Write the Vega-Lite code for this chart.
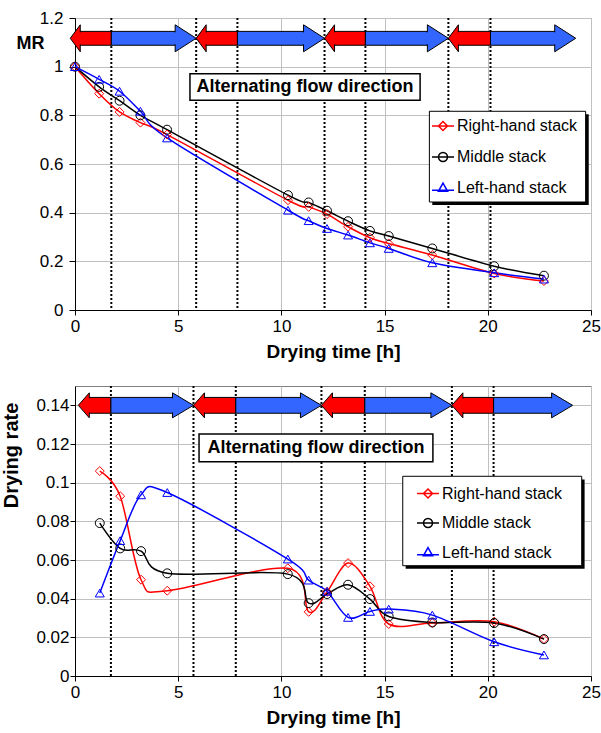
{
  "$schema": "https://vega.github.io/schema/vega-lite/v6.json",
  "padding": {"left": 0, "top": 8, "right": 0, "bottom": 0},
  "spacing": 22,
  "resolve": {"scale": {"color": "independent", "shape": "independent"}, "legend": {"color": "independent", "shape": "independent"}},
  "datasets": {
    "mrTop": [
      {"t": 0, "v": 1.0, "series": "Right-hand stack"}, {"t": 1.17, "v": 0.889, "series": "Right-hand stack"}, {"t": 2.16, "v": 0.814, "series": "Right-hand stack"}, {"t": 3.17, "v": 0.770, "series": "Right-hand stack"}, {"t": 4.46, "v": 0.721, "series": "Right-hand stack"}, {"t": 10.32, "v": 0.451, "series": "Right-hand stack"}, {"t": 11.32, "v": 0.424, "series": "Right-hand stack"}, {"t": 12.21, "v": 0.394, "series": "Right-hand stack"}, {"t": 13.23, "v": 0.342, "series": "Right-hand stack"}, {"t": 14.29, "v": 0.297, "series": "Right-hand stack"}, {"t": 15.2, "v": 0.273, "series": "Right-hand stack"}, {"t": 17.31, "v": 0.226, "series": "Right-hand stack"}, {"t": 20.31, "v": 0.150, "series": "Right-hand stack"}, {"t": 22.72, "v": 0.119, "series": "Right-hand stack"},
      {"t": 0, "v": 1.0, "series": "Middle stack"}, {"t": 1.17, "v": 0.917, "series": "Middle stack"}, {"t": 2.16, "v": 0.860, "series": "Middle stack"}, {"t": 3.17, "v": 0.800, "series": "Middle stack"}, {"t": 4.46, "v": 0.741, "series": "Middle stack"}, {"t": 10.32, "v": 0.472, "series": "Middle stack"}, {"t": 11.32, "v": 0.442, "series": "Middle stack"}, {"t": 12.21, "v": 0.408, "series": "Middle stack"}, {"t": 13.23, "v": 0.365, "series": "Middle stack"}, {"t": 14.29, "v": 0.325, "series": "Middle stack"}, {"t": 15.2, "v": 0.304, "series": "Middle stack"}, {"t": 17.31, "v": 0.253, "series": "Middle stack"}, {"t": 20.31, "v": 0.180, "series": "Middle stack"}, {"t": 22.72, "v": 0.141, "series": "Middle stack"},
      {"t": 0, "v": 1.0, "series": "Left-hand stack"}, {"t": 1.17, "v": 0.948, "series": "Left-hand stack"}, {"t": 2.16, "v": 0.899, "series": "Left-hand stack"}, {"t": 3.17, "v": 0.817, "series": "Left-hand stack"}, {"t": 4.46, "v": 0.707, "series": "Left-hand stack"}, {"t": 10.32, "v": 0.410, "series": "Left-hand stack"}, {"t": 11.32, "v": 0.367, "series": "Left-hand stack"}, {"t": 12.21, "v": 0.335, "series": "Left-hand stack"}, {"t": 13.23, "v": 0.308, "series": "Left-hand stack"}, {"t": 14.29, "v": 0.276, "series": "Left-hand stack"}, {"t": 15.2, "v": 0.253, "series": "Left-hand stack"}, {"t": 17.31, "v": 0.194, "series": "Left-hand stack"}, {"t": 20.31, "v": 0.153, "series": "Left-hand stack"}, {"t": 22.72, "v": 0.127, "series": "Left-hand stack"}
    ],
    "rateBottom": [
      {"t": 1.2, "v": 0.106, "series": "Right-hand stack"}, {"t": 2.19, "v": 0.093, "series": "Right-hand stack"}, {"t": 3.2, "v": 0.0498, "series": "Right-hand stack"}, {"t": 4.47, "v": 0.0441, "series": "Right-hand stack"}, {"t": 10.31, "v": 0.0557, "series": "Right-hand stack"}, {"t": 11.32, "v": 0.0332, "series": "Right-hand stack"}, {"t": 12.21, "v": 0.0435, "series": "Right-hand stack"}, {"t": 13.23, "v": 0.0584, "series": "Right-hand stack"}, {"t": 14.29, "v": 0.0464, "series": "Right-hand stack"}, {"t": 15.2, "v": 0.0269, "series": "Right-hand stack"}, {"t": 17.31, "v": 0.0274, "series": "Right-hand stack"}, {"t": 20.31, "v": 0.0281, "series": "Right-hand stack"}, {"t": 22.72, "v": 0.0191, "series": "Right-hand stack"},
      {"t": 1.2, "v": 0.0791, "series": "Middle stack"}, {"t": 2.19, "v": 0.066, "series": "Middle stack"}, {"t": 3.2, "v": 0.0646, "series": "Middle stack"}, {"t": 4.47, "v": 0.0531, "series": "Middle stack"}, {"t": 10.31, "v": 0.0527, "series": "Middle stack"}, {"t": 11.32, "v": 0.0377, "series": "Middle stack"}, {"t": 12.21, "v": 0.0424, "series": "Middle stack"}, {"t": 13.23, "v": 0.0472, "series": "Middle stack"}, {"t": 14.29, "v": 0.0398, "series": "Middle stack"}, {"t": 15.2, "v": 0.0308, "series": "Middle stack"}, {"t": 17.31, "v": 0.0277, "series": "Middle stack"}, {"t": 20.31, "v": 0.0274, "series": "Middle stack"}, {"t": 22.72, "v": 0.0191, "series": "Middle stack"},
      {"t": 1.2, "v": 0.0429, "series": "Left-hand stack"}, {"t": 2.19, "v": 0.070, "series": "Left-hand stack"}, {"t": 3.2, "v": 0.0937, "series": "Left-hand stack"}, {"t": 4.47, "v": 0.0949, "series": "Left-hand stack"}, {"t": 10.31, "v": 0.0605, "series": "Left-hand stack"}, {"t": 11.32, "v": 0.0496, "series": "Left-hand stack"}, {"t": 12.21, "v": 0.0438, "series": "Left-hand stack"}, {"t": 13.23, "v": 0.0303, "series": "Left-hand stack"}, {"t": 14.29, "v": 0.0334, "series": "Left-hand stack"}, {"t": 15.2, "v": 0.0346, "series": "Left-hand stack"}, {"t": 17.31, "v": 0.0315, "series": "Left-hand stack"}, {"t": 20.31, "v": 0.0177, "series": "Left-hand stack"}, {"t": 22.72, "v": 0.0109, "series": "Left-hand stack"}
    ],
    "switchTop": [{"t": 1.76}, {"t": 5.87}, {"t": 7.87}, {"t": 12.09}, {"t": 14.07}, {"t": 18.09}, {"t": 20.13}],
    "switchBottom": [{"t": 1.74}, {"t": 5.74}, {"t": 7.79}, {"t": 11.94}, {"t": 14.04}, {"t": 18.26}, {"t": 20.28}],
    "arrowsTop": [
      {"dir": "left", "tip": -0.23, "base": 0.26, "tail": 1.76},
      {"dir": "right", "tip": 5.87, "base": 4.84, "tail": 1.76},
      {"dir": "left", "tip": 5.87, "base": 6.36, "tail": 7.87},
      {"dir": "right", "tip": 12.09, "base": 11.06, "tail": 7.87},
      {"dir": "left", "tip": 12.09, "base": 12.58, "tail": 14.07},
      {"dir": "right", "tip": 18.09, "base": 17.06, "tail": 14.07},
      {"dir": "left", "tip": 18.09, "base": 18.58, "tail": 20.13},
      {"dir": "right", "tip": 24.26, "base": 23.23, "tail": 20.13}
    ],
    "arrowsBottom": [
      {"dir": "left", "tip": 0.16, "base": 0.7, "tail": 1.74},
      {"dir": "right", "tip": 5.74, "base": 4.73, "tail": 1.74},
      {"dir": "left", "tip": 5.74, "base": 6.28, "tail": 7.79},
      {"dir": "right", "tip": 11.94, "base": 10.93, "tail": 7.79},
      {"dir": "left", "tip": 11.94, "base": 12.48, "tail": 14.04},
      {"dir": "right", "tip": 18.26, "base": 17.25, "tail": 14.04},
      {"dir": "left", "tip": 18.26, "base": 18.8, "tail": 20.28},
      {"dir": "right", "tip": 24.11, "base": 23.1, "tail": 20.28}
    ]
  },
  "vconcat": [
    {
      "width": 516,
      "height": 292,
      "layer": [
        {
          "data": {"name": "switchTop"},
          "mark": {"type": "rule", "color": "black", "strokeWidth": 2, "strokeDash": [2, 2]},
          "encoding": {
            "x": {"field": "t", "type": "quantitative", "scale": {"domain": [0, 25], "nice": false},
              "axis": {"title": "Drying time [h]", "values": [0, 5, 10, 15, 20, 25], "format": "~g", "grid": true}}
          }
        },
        {
          "data": {"name": "mrTop"},
          "mark": {"type": "line", "interpolate": "cardinal", "strokeWidth": 1.5},
          "encoding": {
            "x": {"field": "t", "type": "quantitative", "scale": {"domain": [0, 25], "nice": false}},
            "y": {"field": "v", "type": "quantitative", "scale": {"domain": [0, 1.2], "nice": false},
              "axis": {"title": "MR", "values": [0, 0.2, 0.4, 0.6, 0.8, 1, 1.2], "format": "~g", "grid": true,
                "titleAngle": 0, "titleX": -45, "titleY": 25, "titleAlign": "center", "titleBaseline": "middle", "titleFontSize": 18,
                "tickSize": 6, "labelPadding": 6}},
            "color": {"field": "series", "type": "nominal",
              "scale": {"domain": ["Right-hand stack", "Middle stack", "Left-hand stack"], "range": ["#FF0000", "#000000", "#0000FF"]}}
          }
        },
        {
          "data": {"name": "mrTop"},
          "mark": {"type": "point", "filled": false, "strokeWidth": 1, "size": 80, "opacity": 1},
          "encoding": {
            "x": {"field": "t", "type": "quantitative", "scale": {"domain": [0, 25], "nice": false}},
            "y": {"field": "v", "type": "quantitative", "scale": {"domain": [0, 1.2], "nice": false}},
            "color": {"field": "series", "type": "nominal",
              "scale": {"domain": ["Right-hand stack", "Middle stack", "Left-hand stack"], "range": ["#FF0000", "#000000", "#0000FF"]}},
            "shape": {"condition": [{"test": "datum.series === 'Right-hand stack'", "value": "diamond"}, {"test": "datum.series === 'Middle stack'", "value": "circle"}], "value": "triangle-up"}
          }
        },
        {
          "data": {"name": "arrowsTop"},
          "mark": {"type": "rect", "stroke": "black", "strokeWidth": 1},
          "encoding": {
            "x": {"field": "base", "type": "quantitative", "scale": {"domain": [0, 25], "nice": false}},
            "x2": {"field": "tail"},
            "y": {"datum": 1.088, "scale": {"domain": [0, 1.2], "nice": false}},
            "y2": {"datum": 1.145},
            "fill": {"condition": {"test": "datum.dir === 'left'", "value": "#FF0000"}, "value": "#3366FF"}
          }
        },
        {
          "data": {"name": "arrowsTop"},
          "mark": {"type": "point", "filled": true, "stroke": "black", "strokeWidth": 1, "size": 729, "opacity": 1},
          "encoding": {
            "x": {"field": "tip", "type": "quantitative", "scale": {"domain": [0, 25], "nice": false}},
            "y": {"datum": 1.1166, "scale": {"domain": [0, 1.2], "nice": false}},
            "fill": {"condition": {"test": "datum.dir === 'left'", "value": "#FF0000"}, "value": "#3366FF"},
            "shape": {"condition": {"test": "datum.dir === 'left'", "value": "M 0 0 L 0.741 -1 L 0.741 1 Z"}, "value": "M 0 0 L -1.556 -1 L -1.556 1 Z"}
          }
        },
        {
          "data": {"name": "arrowsTop"},
          "mark": {"type": "rect", "xOffset": -2, "x2Offset": 2, "yOffset": -6, "y2Offset": 6},
          "encoding": {
            "x": {"field": "base", "type": "quantitative", "scale": {"domain": [0, 25], "nice": false}},
            "x2": {"field": "base"},
            "y": {"datum": 1.1166, "scale": {"domain": [0, 1.2], "nice": false}},
            "y2": {"datum": 1.1166},
            "fill": {"condition": {"test": "datum.dir === 'left'", "value": "#FF0000"}, "value": "#3366FF"}
          }
        },
        {
          "data": {"values": [{}]},
          "mark": {"type": "rect", "fill": "white", "stroke": "black", "strokeWidth": 1.5},
          "encoding": {
            "x": {"datum": 5.57, "scale": {"domain": [0, 25], "nice": false}}, "x2": {"datum": 16.72},
            "y": {"datum": 0.862, "scale": {"domain": [0, 1.2], "nice": false}}, "y2": {"datum": 0.971}
          }
        },
        {
          "data": {"values": [{}]},
          "mark": {"type": "text", "text": "Alternating flow direction", "font": "Liberation Sans", "fontSize": 18, "fontWeight": "bold", "color": "black", "align": "center", "baseline": "middle"},
          "encoding": {"x": {"datum": 11.14, "scale": {"domain": [0, 25], "nice": false}}, "y": {"datum": 0.917, "scale": {"domain": [0, 1.2], "nice": false}}}
        },
        {
          "data": {"values": [{}]},
          "mark": {"type": "rect", "fill": "black"},
          "encoding": {
            "x": {"datum": 17.31, "scale": {"domain": [0, 25], "nice": false}}, "x2": {"datum": 24.89},
            "y": {"datum": 0.4315, "scale": {"domain": [0, 1.2], "nice": false}}, "y2": {"datum": 0.8043}
          }
        },
        {
          "data": {"values": [{}]},
          "mark": {"type": "rect", "fill": "white", "stroke": "black", "strokeWidth": 1},
          "encoding": {
            "x": {"datum": 17.17, "scale": {"domain": [0, 25], "nice": false}}, "x2": {"datum": 24.74},
            "y": {"datum": 0.4438, "scale": {"domain": [0, 1.2], "nice": false}}, "y2": {"datum": 0.8166}
          }
        },
        {
          "data": {"name": "mrTop"},
          "transform": [{"filter": "false"}],
          "mark": {"type": "point", "filled": false, "strokeWidth": 1.5},
          "encoding": {
            "color": {"field": "series", "type": "nominal",
              "scale": {"domain": ["Right-hand stack", "Middle stack", "Left-hand stack"], "range": ["#FF0000", "#000000", "#0000FF"]},
              "legend": {"title": null, "orient": "none", "legendX": 356, "legendY": 96, "labelFont": "Liberation Sans", "labelFontSize": 16, "labelColor": "black", "symbolSize": 484, "symbolStrokeWidth": 1.5, "labelOffset": 2, "rowPadding": 11, "padding": 0, "symbolOpacity": 1}},
            "shape": {"field": "series", "type": "nominal",
              "scale": {"domain": ["Right-hand stack", "Middle stack", "Left-hand stack"],
                "range": ["M -1 0 L 1 0 M 0 -0.41 L 0.41 0 L 0 0.41 L -0.41 0 Z", "M -1 0 L 1 0 M 0.41 0 A 0.41 0.41 0 1 1 -0.41 0 A 0.41 0.41 0 1 1 0.41 0 Z", "M -1 0.2 L 1 0.2 M 0 -0.45 L 0.42 0.3 L -0.42 0.3 Z"]},
              "legend": {"title": null, "orient": "none", "legendX": 356, "legendY": 96, "labelFont": "Liberation Sans", "labelFontSize": 16, "labelColor": "black", "symbolSize": 484, "symbolStrokeWidth": 1.5, "labelOffset": 2, "rowPadding": 11, "padding": 0, "symbolOpacity": 1}}
          }
        }
      ]
    },
    {
      "width": 516,
      "height": 290,
      "layer": [
        {
          "data": {"name": "switchBottom"},
          "mark": {"type": "rule", "color": "black", "strokeWidth": 2, "strokeDash": [2, 2]},
          "encoding": {
            "x": {"field": "t", "type": "quantitative", "scale": {"domain": [0, 25], "nice": false},
              "axis": {"title": "Drying time [h]", "values": [0, 5, 10, 15, 20, 25], "format": "~g", "grid": true}}
          }
        },
        {
          "data": {"name": "rateBottom"},
          "mark": {"type": "line", "interpolate": "cardinal", "strokeWidth": 1.5},
          "encoding": {
            "x": {"field": "t", "type": "quantitative", "scale": {"domain": [0, 25], "nice": false}},
            "y": {"field": "v", "type": "quantitative", "scale": {"domain": [0, 0.15], "nice": false},
              "axis": {"title": "Drying rate", "values": [0, 0.02, 0.04, 0.06, 0.08, 0.1, 0.12, 0.14], "format": "~g", "grid": true,
                "titleAngle": 270, "titleX": -64, "titleY": 69, "titleAlign": "center", "titleBaseline": "middle", "titleFontSize": 20,
                "tickSize": 5, "labelPadding": 1}},
            "color": {"field": "series", "type": "nominal",
              "scale": {"domain": ["Right-hand stack", "Middle stack", "Left-hand stack"], "range": ["#FF0000", "#000000", "#0000FF"]}}
          }
        },
        {
          "data": {"name": "rateBottom"},
          "mark": {"type": "point", "filled": false, "strokeWidth": 1, "size": 80, "opacity": 1},
          "encoding": {
            "x": {"field": "t", "type": "quantitative", "scale": {"domain": [0, 25], "nice": false}},
            "y": {"field": "v", "type": "quantitative", "scale": {"domain": [0, 0.15], "nice": false}},
            "color": {"field": "series", "type": "nominal",
              "scale": {"domain": ["Right-hand stack", "Middle stack", "Left-hand stack"], "range": ["#FF0000", "#000000", "#0000FF"]}},
            "shape": {"condition": [{"test": "datum.series === 'Right-hand stack'", "value": "diamond"}, {"test": "datum.series === 'Middle stack'", "value": "circle"}], "value": "triangle-up"}
          }
        },
        {
          "data": {"name": "arrowsBottom"},
          "mark": {"type": "rect", "stroke": "black", "strokeWidth": 1},
          "encoding": {
            "x": {"field": "base", "type": "quantitative", "scale": {"domain": [0, 25], "nice": false}},
            "x2": {"field": "tail"},
            "y": {"datum": 0.1359, "scale": {"domain": [0, 0.15], "nice": false}},
            "y2": {"datum": 0.1441},
            "fill": {"condition": {"test": "datum.dir === 'left'", "value": "#FF0000"}, "value": "#3366FF"}
          }
        },
        {
          "data": {"name": "arrowsBottom"},
          "mark": {"type": "point", "filled": true, "stroke": "black", "strokeWidth": 1, "size": 625, "opacity": 1},
          "encoding": {
            "x": {"field": "tip", "type": "quantitative", "scale": {"domain": [0, 25], "nice": false}},
            "y": {"datum": 0.14, "scale": {"domain": [0, 0.15], "nice": false}},
            "fill": {"condition": {"test": "datum.dir === 'left'", "value": "#FF0000"}, "value": "#3366FF"},
            "shape": {"condition": {"test": "datum.dir === 'left'", "value": "M 0 0 L 0.88 -1 L 0.88 1 Z"}, "value": "M 0 0 L -1.68 -1 L -1.68 1 Z"}
          }
        },
        {
          "data": {"name": "arrowsBottom"},
          "mark": {"type": "rect", "xOffset": -2, "x2Offset": 2, "yOffset": -7, "y2Offset": 7},
          "encoding": {
            "x": {"field": "base", "type": "quantitative", "scale": {"domain": [0, 25], "nice": false}},
            "x2": {"field": "base"},
            "y": {"datum": 0.14, "scale": {"domain": [0, 0.15], "nice": false}},
            "y2": {"datum": 0.14},
            "fill": {"condition": {"test": "datum.dir === 'left'", "value": "#FF0000"}, "value": "#3366FF"}
          }
        },
        {
          "data": {"values": [{}]},
          "mark": {"type": "rect", "fill": "white", "stroke": "black", "strokeWidth": 1.5},
          "encoding": {
            "x": {"datum": 6.01, "scale": {"domain": [0, 25], "nice": false}}, "x2": {"datum": 17.34},
            "y": {"datum": 0.1108, "scale": {"domain": [0, 0.15], "nice": false}}, "y2": {"datum": 0.1252}
          }
        },
        {
          "data": {"values": [{}]},
          "mark": {"type": "text", "text": "Alternating flow direction", "font": "Liberation Sans", "fontSize": 18, "fontWeight": "bold", "color": "black", "align": "center", "baseline": "middle"},
          "encoding": {"x": {"datum": 11.68, "scale": {"domain": [0, 25], "nice": false}}, "y": {"datum": 0.1179, "scale": {"domain": [0, 0.15], "nice": false}}}
        },
        {
          "data": {"values": [{}]},
          "mark": {"type": "rect", "fill": "black"},
          "encoding": {
            "x": {"datum": 16.02, "scale": {"domain": [0, 25], "nice": false}}, "x2": {"datum": 24.69},
            "y": {"datum": 0.0555, "scale": {"domain": [0, 0.15], "nice": false}}, "y2": {"datum": 0.1017}
          }
        },
        {
          "data": {"values": [{}]},
          "mark": {"type": "rect", "fill": "white", "stroke": "black", "strokeWidth": 1},
          "encoding": {
            "x": {"datum": 15.88, "scale": {"domain": [0, 25], "nice": false}}, "x2": {"datum": 24.55},
            "y": {"datum": 0.05705, "scale": {"domain": [0, 0.15], "nice": false}}, "y2": {"datum": 0.1033}
          }
        },
        {
          "data": {"name": "rateBottom"},
          "transform": [{"filter": "false"}],
          "mark": {"type": "point", "filled": false, "strokeWidth": 1.5},
          "encoding": {
            "color": {"field": "series", "type": "nominal",
              "scale": {"domain": ["Right-hand stack", "Middle stack", "Left-hand stack"], "range": ["#FF0000", "#000000", "#0000FF"]},
              "legend": {"title": null, "orient": "none", "legendX": 341, "legendY": 95.5, "labelFont": "Liberation Sans", "labelFontSize": 16, "labelColor": "black", "symbolSize": 484, "symbolStrokeWidth": 1.5, "labelOffset": 2, "rowPadding": 9.5, "padding": 0, "symbolOpacity": 1}},
            "shape": {"field": "series", "type": "nominal",
              "scale": {"domain": ["Right-hand stack", "Middle stack", "Left-hand stack"],
                "range": ["M -1 0 L 1 0 M 0 -0.41 L 0.41 0 L 0 0.41 L -0.41 0 Z", "M -1 0 L 1 0 M 0.41 0 A 0.41 0.41 0 1 1 -0.41 0 A 0.41 0.41 0 1 1 0.41 0 Z", "M -1 0.2 L 1 0.2 M 0 -0.45 L 0.42 0.3 L -0.42 0.3 Z"]},
              "legend": {"title": null, "orient": "none", "legendX": 341, "legendY": 95.5, "labelFont": "Liberation Sans", "labelFontSize": 16, "labelColor": "black", "symbolSize": 484, "symbolStrokeWidth": 1.5, "labelOffset": 2, "rowPadding": 9.5, "padding": 0, "symbolOpacity": 1}}
          }
        }
      ]
    }
  ],
  "config": {
    "font": "Liberation Sans",
    "view": {"stroke": "#808080", "strokeWidth": 1},
    "axis": {"labelFont": "Liberation Sans", "labelFontSize": 17, "labelColor": "black", "titleFont": "Liberation Sans", "titleFontSize": 19, "titleFontWeight": "bold", "titleColor": "black", "domainColor": "black", "domainWidth": 1, "tickColor": "black", "tickSize": 5, "gridColor": "#C0C0C0", "gridWidth": 1, "labelFlush": false, "labelOverlap": false},
    "axisX": {"labelPadding": 3, "titlePadding": 8}
  }
}
